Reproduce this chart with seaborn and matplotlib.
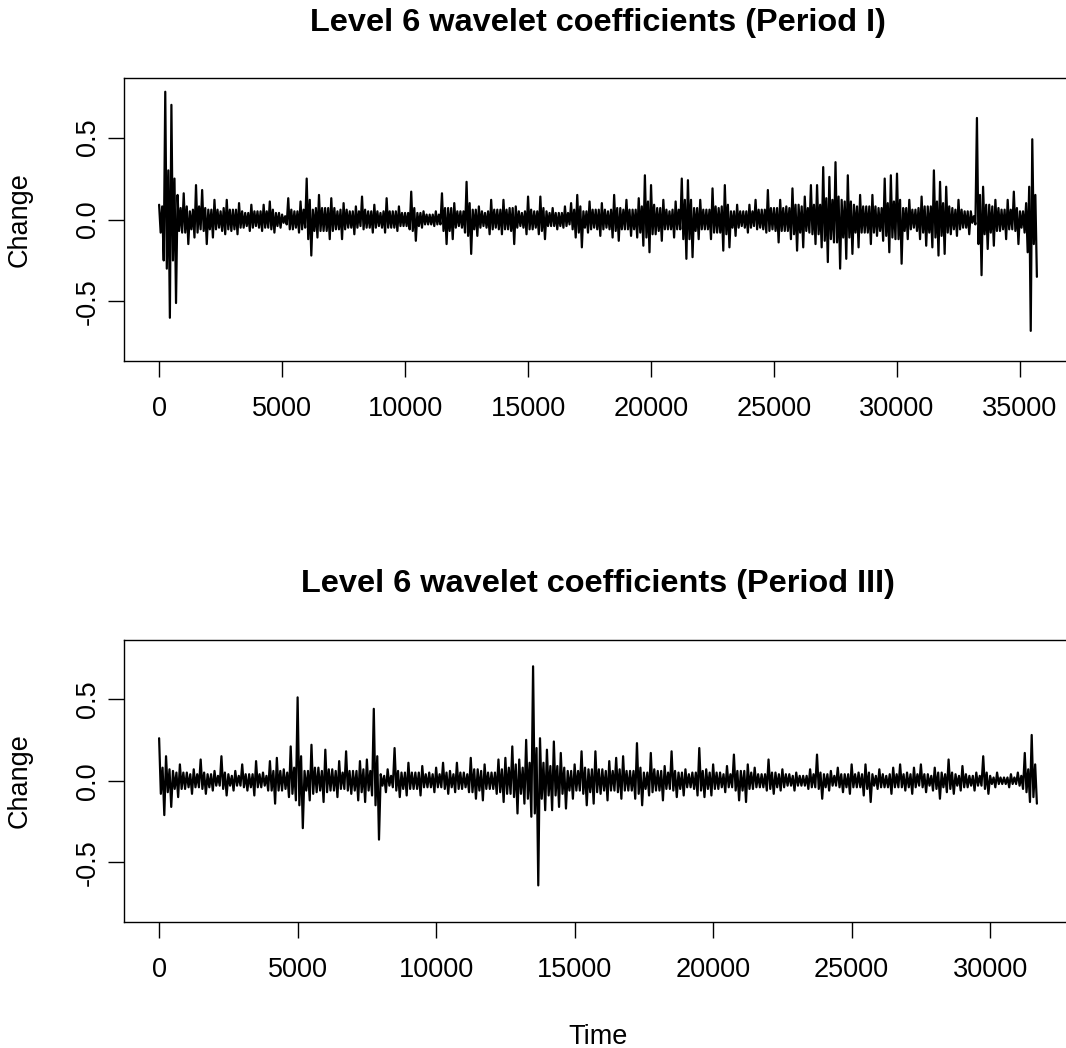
import numpy as np
import pandas as pd
import matplotlib
matplotlib.use("Agg")
import matplotlib.pyplot as plt
import seaborn as sns

# ---- data ----
# Per block of 250 time steps: the highest and lowest value (pairs: peak, trough),
# and the half-width of the solid core band in that block.
block_len = 250

period1_extremes = [
    0.09, -0.25, 0.78, -0.60, 0.70, -0.51,
    0.15, -0.08, 0.16, -0.15, 0.05, -0.11, 0.21, -0.06, 0.18, -0.15, 0.06, -0.11, 0.12, -0.05, 0.05, -0.09, 0.12, -0.07, 0.06, -0.09,
    0.10, -0.05, 0.04, -0.07, 0.09, -0.04, 0.05, -0.07, 0.09, -0.05, 0.11, -0.08, 0.04, -0.05, 0.03, -0.03, 0.13, -0.06, 0.05, -0.08,
    0.11, -0.05, 0.25, -0.22, 0.06, -0.11, 0.15, -0.07, 0.07, -0.12, 0.13, -0.06, 0.05, -0.12, 0.10, -0.05, 0.05, -0.09, 0.08, -0.04,
    0.14, -0.05, 0.05, -0.08, 0.09, -0.04, 0.04, -0.08, 0.13, -0.05, 0.05, -0.07, 0.08, -0.04, 0.04, -0.06, 0.17, -0.13, 0.04, -0.05,
    0.05, -0.03, 0.03, -0.04, 0.05, -0.03, 0.16, -0.15, 0.07, -0.12,
    0.10, -0.04, 0.05, -0.08, 0.23, -0.21, 0.06, -0.10, 0.08, -0.04, 0.04, -0.09, 0.12, -0.05, 0.06, -0.09, 0.12, -0.06, 0.07, -0.15,
    0.08, -0.04, 0.04, -0.09, 0.14, -0.06, 0.05, -0.09, 0.14, -0.12, 0.05, -0.04, 0.07, -0.06, 0.04, -0.05, 0.08, -0.03, 0.10, -0.11,
    0.15, -0.17, 0.05, -0.08, 0.11, -0.05, 0.06, -0.10, 0.10, -0.05, 0.05, -0.11, 0.15, -0.13, 0.07, -0.06, 0.12, -0.10, 0.06, -0.11,
    0.13, -0.16, 0.27, -0.20, 0.21, -0.09, 0.07, -0.13, 0.12, -0.06, 0.05, -0.11, 0.11, -0.06, 0.25, -0.24, 0.24, -0.23, 0.07, -0.12,
    0.12, -0.06, 0.06, -0.12, 0.19, -0.08, 0.07, -0.19, 0.21, -0.17, 0.05, -0.10, 0.09, -0.04, 0.05, -0.08, 0.09, -0.04,
    0.12, -0.05, 0.06, -0.08, 0.18, -0.06, 0.07, -0.14, 0.12, -0.07, 0.08, -0.12, 0.19, -0.19, 0.09, -0.17, 0.14, -0.08, 0.21, -0.15,
    0.21, -0.17, 0.32, -0.26, 0.26, -0.14, 0.35, -0.30, 0.12, -0.24, 0.27, -0.21, 0.09, -0.17, 0.15, -0.08, 0.08, -0.15, 0.15, -0.10,
    0.07, -0.13, 0.25, -0.20, 0.27, -0.12, 0.28, -0.27, 0.07, -0.12, 0.12, -0.05, 0.06, -0.12, 0.14, -0.16, 0.08, -0.17, 0.30, -0.22,
    0.23, -0.21, 0.20, -0.09, 0.07, -0.10, 0.12, -0.05, 0.05, -0.09, 0.05, -0.03, 0.62, -0.34, 0.20, -0.18, 0.09, -0.16, 0.12, -0.07,
    0.06, -0.12, 0.12, -0.06, 0.17, -0.15, 0.05, -0.08, 0.10, -0.68, 0.49, -0.35,
]

period1_core = [
    0.08, 0.30, 0.25,
    0.07, 0.08, 0.06, 0.08, 0.07, 0.06, 0.06, 0.07, 0.06, 0.06,
    0.05, 0.04, 0.05, 0.05, 0.05, 0.06, 0.04, 0.02, 0.06, 0.05,
    0.06, 0.12, 0.07, 0.07, 0.07, 0.07, 0.06, 0.06, 0.05, 0.05,
    0.06, 0.05, 0.05, 0.05, 0.05, 0.05, 0.04, 0.04, 0.07, 0.04,
    0.03, 0.03, 0.03, 0.07, 0.07,
    0.05, 0.05, 0.10, 0.06, 0.05, 0.05, 0.06, 0.06, 0.06, 0.07,
    0.05, 0.05, 0.06, 0.05, 0.07, 0.04, 0.04, 0.04, 0.04, 0.06,
    0.08, 0.05, 0.06, 0.06, 0.06, 0.06, 0.07, 0.06, 0.06, 0.06,
    0.08, 0.11, 0.09, 0.07, 0.06, 0.06, 0.06, 0.12, 0.12, 0.07,
    0.06, 0.06, 0.08, 0.08, 0.09, 0.05, 0.05, 0.05, 0.05,
    0.06, 0.06, 0.07, 0.07, 0.07, 0.07, 0.09, 0.08, 0.07, 0.09,
    0.09, 0.13, 0.12, 0.14, 0.11, 0.11, 0.08, 0.08, 0.08, 0.08,
    0.07, 0.10, 0.11, 0.12, 0.07, 0.06, 0.07, 0.08, 0.08, 0.11,
    0.10, 0.08, 0.06, 0.06, 0.05, 0.02, 0.15, 0.09, 0.08, 0.07,
    0.06, 0.06, 0.07, 0.05, 0.20, 0.15,
]

period3_extremes = [
    0.26, -0.21, 0.15, -0.16, 0.06, -0.10, 0.10, -0.05, 0.05, -0.08, 0.07, -0.04, 0.13, -0.08, 0.04, -0.06, 0.06, -0.03, 0.15, -0.09,
    0.04, -0.06, 0.06, -0.03, 0.10, -0.06, 0.04, -0.09, 0.12, -0.04, 0.05, -0.06, 0.12, -0.14, 0.14, -0.06, 0.07, -0.10, 0.21, -0.12,
    0.51, -0.29, 0.06, -0.12, 0.22, -0.07, 0.08, -0.13, 0.19, -0.06, 0.07, -0.10, 0.12, -0.05, 0.18, -0.08, 0.06, -0.12, 0.12, -0.13,
    0.13, -0.09, 0.44, -0.36, 0.04, -0.07, 0.07, -0.04, 0.20, -0.10, 0.05, -0.09, 0.11, -0.05, 0.05, -0.09, 0.09, -0.04, 0.05, -0.07,
    0.08, -0.04, 0.11, -0.08, 0.06, -0.07,
    0.11, -0.05, 0.05, -0.07, 0.14, -0.11, 0.07, -0.12, 0.10, -0.05, 0.05, -0.08, 0.13, -0.13, 0.14, -0.08, 0.21, -0.20, 0.13, -0.14,
    0.25, -0.22, 0.70, -0.64, 0.26, -0.18, 0.19, -0.18, 0.24, -0.16, 0.17, -0.17, 0.06, -0.11, 0.10, -0.06, 0.18, -0.15, 0.07, -0.14,
    0.18, -0.08, 0.07, -0.12, 0.12, -0.06, 0.14, -0.11, 0.15, -0.06, 0.06, -0.11, 0.23, -0.15, 0.05, -0.09, 0.17, -0.06, 0.06, -0.12,
    0.09, -0.05, 0.18, -0.10, 0.05, -0.09, 0.07, -0.04, 0.05, -0.09, 0.20, -0.10, 0.07, -0.09, 0.10, -0.05, 0.05, -0.07, 0.09, -0.04,
    0.16, -0.12, 0.06, -0.13, 0.10, -0.05,
    0.08, -0.04, 0.04, -0.06, 0.13, -0.08, 0.05, -0.06, 0.07, -0.03, 0.04, -0.06, 0.05, -0.03, 0.03, -0.05, 0.07, -0.04, 0.16, -0.11,
    0.04, -0.06, 0.06, -0.03, 0.08, -0.07, 0.04, -0.08, 0.10, -0.04, 0.05, -0.09, 0.10, -0.13, 0.04, -0.05, 0.07, -0.04, 0.03, -0.08,
    0.08, -0.04, 0.10, -0.06, 0.05, -0.08, 0.08, -0.03, 0.10, -0.07, 0.04, -0.06, 0.08, -0.11, 0.05, -0.07, 0.13, -0.08, 0.04, -0.06,
    0.09, -0.04, 0.03, -0.06, 0.05, -0.03, 0.15, -0.08, 0.03, -0.04, 0.05, -0.02, 0.02, -0.04, 0.04, -0.02, 0.05, -0.05, 0.17, -0.13,
    0.28, -0.14,
]

period3_core = [
    0.08, 0.07, 0.05, 0.05, 0.04, 0.04, 0.05, 0.04, 0.03, 0.05,
    0.03, 0.03, 0.04, 0.04, 0.04, 0.03, 0.06, 0.06, 0.05, 0.08,
    0.15, 0.06, 0.08, 0.06, 0.07, 0.06, 0.05, 0.06, 0.06, 0.07,
    0.06, 0.15, 0.03, 0.03, 0.06, 0.05, 0.05, 0.05, 0.04, 0.04,
    0.04, 0.05, 0.04,
    0.05, 0.04, 0.07, 0.06, 0.05, 0.05, 0.07, 0.08, 0.10, 0.08,
    0.11, 0.20, 0.11, 0.09, 0.09, 0.08, 0.06, 0.06, 0.08, 0.07,
    0.07, 0.06, 0.06, 0.07, 0.06, 0.06, 0.08, 0.05, 0.07, 0.06,
    0.05, 0.06, 0.05, 0.04, 0.05, 0.06, 0.05, 0.05, 0.04, 0.04, 0.06, 0.06, 0.05,
    0.04, 0.04, 0.05, 0.04, 0.04, 0.03, 0.03, 0.03, 0.04, 0.05,
    0.04, 0.03, 0.04, 0.04, 0.04, 0.04, 0.05, 0.03, 0.04, 0.04,
    0.04, 0.04, 0.04, 0.04, 0.04, 0.03, 0.05, 0.04, 0.05, 0.03,
    0.04, 0.03, 0.03, 0.05, 0.02, 0.02, 0.02, 0.02, 0.03, 0.07, 0.10,
]

panel_titles = ["Level 6 wavelet coefficients (Period I)",
                "Level 6 wavelet coefficients (Period III)"]
period1_xticks = [0, 5000, 10000, 15000, 20000, 25000, 30000, 35000]
period3_xticks = [0, 5000, 10000, 15000, 20000, 25000, 30000]
ytick_values = [-0.5, 0.0, 0.5]
ytick_labels = ["-0.5", "0.0", "0.5"]
y_limits = (-0.8, 0.8)


def build_series(extremes, core):
    """Order the read values in time: peak, core low, core high, trough per block."""
    vals = []
    for k, c in enumerate(core):
        vals += [extremes[2 * k], -c, c, extremes[2 * k + 1]]
    step = block_len / 4
    return pd.DataFrame({"Time": np.arange(len(vals)) * step, "Change": vals})


# ---- style ----
sns.set_style("ticks")
plt.rcParams["font.family"] = ["Liberation Sans", "DejaVu Sans"]
plt.rcParams["text.color"] = "black"
plt.rcParams["axes.labelcolor"] = "black"
plt.rcParams["xtick.color"] = "black"
plt.rcParams["ytick.color"] = "black"

W, H = 1066, 1048
fig = plt.figure(figsize=(W / 100, H / 100), dpi=100)
fig.patch.set_facecolor("white")

ax1 = fig.add_axes([124 / W, 1 - 361 / H, 948 / W, 283 / H])
ax2 = fig.add_axes([124 / W, 1 - 922 / H, 948 / W, 282.5 / H])

panels = [
    (ax1, build_series(period1_extremes, period1_core), period1_xticks, panel_titles[0], ""),
    (ax2, build_series(period3_extremes, period3_core), period3_xticks, panel_titles[1], "Time"),
]

for ax, df, xt, title, xlab in panels:
    sns.lineplot(data=df, x="Time", y="Change", ax=ax, color="black",
                 linewidth=1.6, estimator=None, sort=False)
    tmin, tmax = df["Time"].min(), df["Time"].max()
    pad = 0.04 * (tmax - tmin)
    ax.set_xlim(tmin - pad, tmax + pad)
    ypad = 0.04 * (y_limits[1] - y_limits[0])
    ax.set_ylim(y_limits[0] - ypad, y_limits[1] + ypad)

    ax.set_xticks(xt)
    ax.set_xticklabels([str(v) for v in xt])
    ax.set_yticks(ytick_values)
    ax.set_yticklabels(ytick_labels)
    for lbl in ax.get_yticklabels():
        lbl.set_rotation(90)
        lbl.set_va("center")

    for sp in ax.spines.values():
        sp.set_visible(True)
        sp.set_linewidth(1.0)
        sp.set_color("black")

    ax.tick_params(direction="out", length=11.5, width=1.0,
                   labelsize=19.5, colors="black")
    ax.tick_params(axis="x", pad=14)
    ax.tick_params(axis="y", pad=5)

    ax.set_title(title, fontsize=23.4, fontweight="bold", pad=34,
                 color="black")
    ax.set_ylabel("Change", fontsize=19.5, color="black")
    ax.yaxis.set_label_coords(-0.096, 0.5)
    ax.set_xlabel(xlab, fontsize=19.5, color="black")
    ax.xaxis.set_label_coords(0.5, -0.361)
    ax.grid(False)

fig.savefig("out.png", dpi=100, facecolor="white")
